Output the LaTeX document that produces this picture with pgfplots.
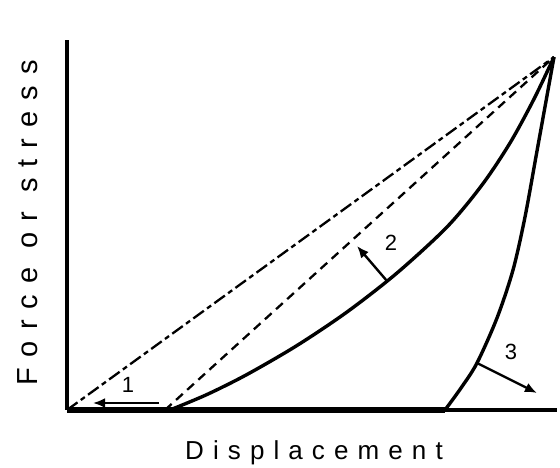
\documentclass[border=0pt]{standalone}
\usepackage{fontspec}
\setmainfont{Liberation Sans}
\usepackage{pgfplots}
\pgfplotsset{compat=1.18}
\usetikzlibrary{arrows.meta}

\begin{document}
\begin{tikzpicture}[x=1pt,y=1pt]
\path[use as bounding box] (-67,-58) rectangle (493,410);
\begin{axis}[at={(0,0)}, anchor=south west, scale only axis,
  width=490pt, height=370pt,
  xmin=0, xmax=490, ymin=0, ymax=370,
  axis lines=left, axis line style={line width=3.3pt,-},
  ticks=none, clip=false]
% thick baseline segment
\addplot[black, line width=6.5pt] coordinates {(0,0) (378,0)};
% dash-dot straight line
\addplot[black, line width=2.3pt, dash pattern=on 13pt off 4pt on 5pt off 4pt] coordinates {(0,0) (487,353)};
% dashed straight line
\addplot[black, line width=2.3pt, dash pattern=on 9pt off 6pt] coordinates {(98,0) (487,353)};
% curve 2
\addplot[black, line width=3.4pt, smooth] coordinates {
 (103,0) (140,15.5) (180,35.5) (230,64.5) (280,98) (330,137) (380,183)
 (415,225) (443,267) (467,311) (487,353)};
% curve 3
\addplot[black, line width=3.4pt, smooth] coordinates {
 (378,0) (394,22) (410,47) (430,92) (446,140) (458,193) (470,259) (487,353)};
% arrows
\addplot[black, line width=2.4pt, -{Latex[length=12pt,width=10pt]}] coordinates {(92,7) (26,7)};
\addplot[black, line width=2.4pt, -{Latex[length=12pt,width=10pt]}] coordinates {(320,129) (290,164)};
\addplot[black, line width=2.4pt, -{Latex[length=12pt,width=10pt]}] coordinates {(410,47) (470,17)};
\node[font=\fontsize{22}{22}\selectfont] at (axis cs:61,25) {1};
\node[font=\fontsize{22}{22}\selectfont] at (axis cs:324,167) {2};
\node[font=\fontsize{22}{22}\selectfont] at (axis cs:444,58) {3};
\end{axis}
\node[anchor=base, font=\fontsize{26}{26}\selectfont\addfontfeatures{LetterSpace=35}] at (247,-50) {Displacement};
\node[anchor=base, rotate=90, font=\fontsize{29}{29}\selectfont\addfontfeatures{LetterSpace=38}] at (-29,187) {Force or stress};
\end{tikzpicture}
\end{document}
